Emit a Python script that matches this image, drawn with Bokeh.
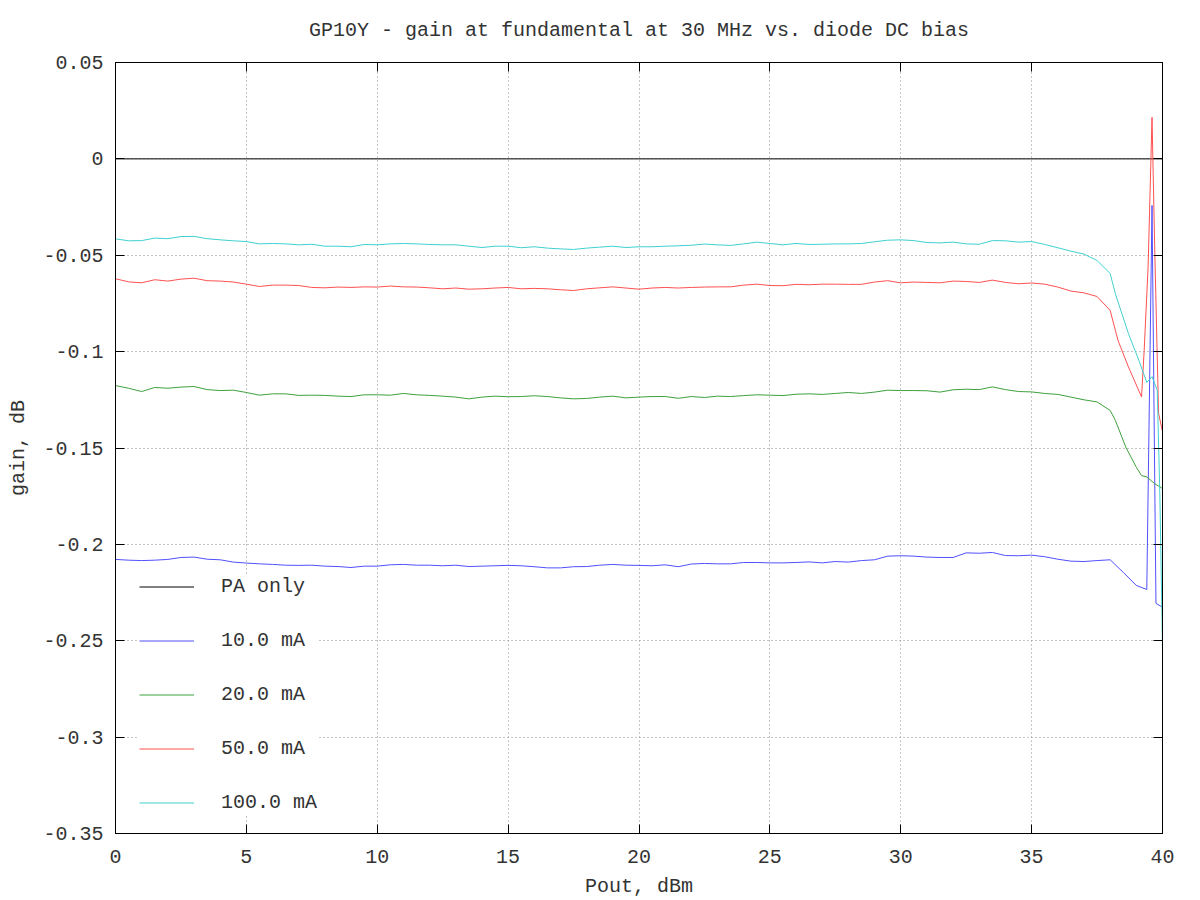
from bokeh.plotting import figure
from bokeh.models import Range1d, FixedTicker, LinearAxis, Legend, LegendItem, CustomLabelingPolicy
from bokeh.embed import file_html
from bokeh.resources import INLINE

# ---------------- data ----------------
pout = [i * 0.5 for i in range(76)]  # 0 .. 37.5 dBm

pa_x = [0.0, 40.0]
pa_only = [0.0, 0.0]

ma10 = [-0.2078, -0.2082, -0.2084, -0.2082, -0.2078, -0.2068, -0.2066, -0.2077, -0.2080, -0.2092,
        -0.2097, -0.2101, -0.2104, -0.2108, -0.2109, -0.2108, -0.2113, -0.2115, -0.2120, -0.2113,
        -0.2113, -0.2106, -0.2104, -0.2108, -0.2108, -0.2111, -0.2108, -0.2115, -0.2113, -0.2111,
        -0.2109, -0.2111, -0.2116, -0.2122, -0.2122, -0.2116, -0.2115, -0.2108,
        -0.2104, -0.2108, -0.2109, -0.2111, -0.2106, -0.2116, -0.2102, -0.2099, -0.2101, -0.2101,
        -0.2094, -0.2094, -0.2096, -0.2096, -0.2094, -0.2091, -0.2096, -0.2089, -0.2092, -0.2084,
        -0.2080, -0.2061, -0.2059, -0.2061, -0.2066, -0.2068, -0.2068, -0.2044, -0.2046, -0.2042,
        -0.2058, -0.2059, -0.2056, -0.2064, -0.2077, -0.2087, -0.2089, -0.2084]
ma10_tail_x = [38.0, 38.5, 39.0, 39.4, 39.6, 39.75, 40.0]
ma10_tail = [-0.2080, -0.2145, -0.2213, -0.2234, -0.0242, -0.2306, -0.2326]

ma20 = [-0.1176, -0.1190, -0.1207, -0.1186, -0.1190, -0.1184, -0.1181, -0.1197, -0.1202, -0.1200,
        -0.1212, -0.1226, -0.1219, -0.1219, -0.1227, -0.1226, -0.1227, -0.1231, -0.1233, -0.1224,
        -0.1224, -0.1226, -0.1217, -0.1224, -0.1227, -0.1231, -0.1236, -0.1245, -0.1236, -0.1231,
        -0.1234, -0.1233, -0.1229, -0.1233, -0.1240, -0.1245, -0.1243, -0.1236,
        -0.1231, -0.1240, -0.1236, -0.1233, -0.1233, -0.1242, -0.1233, -0.1238, -0.1231, -0.1233,
        -0.1228, -0.1224, -0.1226, -0.1228, -0.1221, -0.1219, -0.1222, -0.1217, -0.1212, -0.1217,
        -0.1210, -0.1200, -0.1202, -0.1202, -0.1203, -0.1210, -0.1198, -0.1195, -0.1197, -0.1183,
        -0.1197, -0.1207, -0.1209, -0.1217, -0.1222, -0.1236, -0.1250, -0.1261]
ma20_tail_x = [38.0, 38.2, 38.6, 39.0, 39.2, 39.4, 39.7, 40.0]
ma20_tail = [-0.1305, -0.1357, -0.1496, -0.1600, -0.1643, -0.1650, -0.1685, -0.1710]

ma50 = [-0.0622, -0.0638, -0.0643, -0.0627, -0.0634, -0.0624, -0.0619, -0.0632, -0.0634, -0.0639,
        -0.0650, -0.0662, -0.0655, -0.0655, -0.0657, -0.0667, -0.0669, -0.0665, -0.0667, -0.0664,
        -0.0665, -0.0660, -0.0664, -0.0665, -0.0669, -0.0674, -0.0670, -0.0676, -0.0674, -0.0670,
        -0.0667, -0.0674, -0.0672, -0.0674, -0.0679, -0.0683, -0.0674, -0.0669,
        -0.0664, -0.0670, -0.0676, -0.0670, -0.0667, -0.0670, -0.0667, -0.0665, -0.0664, -0.0664,
        -0.0655, -0.0650, -0.0657, -0.0658, -0.0651, -0.0653, -0.0650, -0.0650, -0.0651, -0.0651,
        -0.0639, -0.0632, -0.0643, -0.0639, -0.0641, -0.0643, -0.0634, -0.0636, -0.0641, -0.0629,
        -0.0641, -0.0648, -0.0644, -0.0650, -0.0665, -0.0686, -0.0695, -0.0714]
ma50_tail_x = [38.0, 38.3, 38.7, 39.2, 39.3, 39.45, 39.55, 39.6, 39.7, 39.85, 40.0]
ma50_tail = [-0.0786, -0.0942, -0.1080, -0.1235, -0.0994, -0.0560, -0.0043, 0.0216, -0.0450, -0.1320, -0.1415]

ma100 = [-0.0415, -0.0425, -0.0424, -0.0411, -0.0414, -0.0403, -0.0402, -0.0414, -0.0420, -0.0425,
         -0.0429, -0.0441, -0.0439, -0.0441, -0.0446, -0.0443, -0.0453, -0.0453, -0.0456, -0.0444,
         -0.0446, -0.0441, -0.0439, -0.0441, -0.0444, -0.0446, -0.0446, -0.0453, -0.0460, -0.0453,
         -0.0453, -0.0461, -0.0456, -0.0463, -0.0467, -0.0470, -0.0463, -0.0458,
         -0.0453, -0.0460, -0.0456, -0.0456, -0.0453, -0.0451, -0.0448, -0.0442, -0.0446, -0.0449,
         -0.0441, -0.0432, -0.0439, -0.0446, -0.0439, -0.0444, -0.0443, -0.0441, -0.0441, -0.0439,
         -0.0430, -0.0422, -0.0420, -0.0424, -0.0434, -0.0436, -0.0432, -0.0441, -0.0443, -0.0424,
         -0.0425, -0.0432, -0.0429, -0.0444, -0.0461, -0.0479, -0.0494, -0.0527]
ma100_tail_x = [38.0, 38.2, 38.7, 39.1, 39.4, 39.6, 39.8, 39.9, 40.0]
ma100_tail = [-0.0595, -0.0700, -0.0907, -0.1046, -0.1160, -0.1130, -0.1200, -0.1750, -0.2540]

x_ticks = [0, 5, 10, 15, 20, 25, 30, 35, 40]
y_ticks = [-0.35, -0.3, -0.25, -0.2, -0.15, -0.1, -0.05, 0, 0.05]
y_tick_labels = ["-0.35", "-0.3", "-0.25", "-0.2", "-0.15", "-0.1", "-0.05", "0", "0.05"]

series_labels = ["PA only", "10.0 mA", "20.0 mA", "50.0 mA", "100.0 mA"]
series_colors = ["#000000", "#5050ff", "#3ea03e", "#ff5050", "#40d0d0"]

# ---------------- figure ----------------
FONT = "Liberation Mono"
TXT = "#333333"

p = figure(frame_width=1047, frame_height=771,
           x_range=Range1d(0, 40), y_range=Range1d(-0.35, 0.05),
           output_backend="svg", toolbar_location=None,
           min_border_left=115, min_border_right=38, min_border_top=62, min_border_bottom=67,
           title="GP10Y - gain at fundamental at 30 MHz vs. diode DC bias")

p.title.text_font = FONT
p.title.text_font_size = "20px"
p.title.text_font_style = "normal"
p.title.text_color = TXT
p.title.align = "center"
p.title.standoff = 19

p.outline_line_color = "#000000"
p.background_fill_color = "#ffffff"
p.border_fill_color = "#ffffff"

xt = FixedTicker(ticks=x_ticks)
yt = FixedTicker(ticks=y_ticks)
p.xaxis.ticker = xt
p.yaxis.ticker = yt
p.yaxis.major_label_overrides = {t: l for t, l in zip(y_ticks, y_tick_labels)}

for ax in (p.xaxis[0], p.yaxis[0]):
    ax.major_tick_in = 9
    ax.major_tick_out = 0
    ax.minor_tick_in = 0
    ax.minor_tick_out = 0
    ax.axis_line_color = "#000000"
    ax.major_tick_line_color = "#000000"
    ax.major_label_text_font = FONT
    ax.major_label_text_font_size = "20px"
    ax.major_label_text_color = TXT
    ax.axis_label_text_font = FONT
    ax.axis_label_text_font_size = "20px"
    ax.axis_label_text_font_style = "normal"
    ax.axis_label_text_color = TXT

p.xaxis.axis_label = "Pout, dBm"
p.yaxis.axis_label = "gain, dB"
p.xaxis.major_label_standoff = 16
p.xaxis.axis_label_standoff = 9
p.yaxis.major_label_standoff = 12
p.yaxis.axis_label_standoff = 10

# mirrored tick axes (top & right), no labels drawn
for loc, tk in (("above", xt), ("right", yt)):
    ax = LinearAxis(ticker=tk, major_label_policy=CustomLabelingPolicy(code="return new Set()"))
    ax.major_tick_in = 9
    ax.major_tick_out = 0
    ax.minor_tick_in = 0
    ax.minor_tick_out = 0
    ax.major_label_standoff = 0
    ax.axis_line_color = "#000000"
    ax.major_tick_line_color = "#000000"
    p.add_layout(ax, loc)

for g in (p.xgrid[0], p.ygrid[0]):
    g.grid_line_color = "#8c8c8c"
    g.grid_line_dash = "1 3"
    g.grid_line_width = 1
p.xgrid.ticker = xt
p.ygrid.ticker = yt

# ---------------- lines ----------------
r0 = p.line(pa_x, pa_only, line_color=series_colors[0], line_width=1)
r1 = p.line(pout + ma10_tail_x, ma10 + ma10_tail, line_color=series_colors[1], line_width=1)
r2 = p.line(pout + ma20_tail_x, ma20 + ma20_tail, line_color=series_colors[2], line_width=1)
r3 = p.line(pout + ma50_tail_x, ma50 + ma50_tail, line_color=series_colors[3], line_width=1)
r4 = p.line(pout + ma100_tail_x, ma100 + ma100_tail, line_color=series_colors[4], line_width=1)

legend = Legend(items=[LegendItem(label=l, renderers=[r]) for l, r in
                       zip(series_labels, [r0, r1, r2, r3, r4])],
                location=(24, 19))
legend.background_fill_color = "#ffffff"
legend.background_fill_alpha = 1.0
legend.border_line_color = None
legend.label_text_font = FONT
legend.label_text_font_size = "20px"
legend.label_text_color = TXT
legend.glyph_width = 55
legend.glyph_height = 21
legend.label_height = 21
legend.label_standoff = 27
legend.spacing = 31
legend.padding = 15
legend.margin = 0
p.add_layout(legend)

open("out.html", "w").write(file_html(p, INLINE))
